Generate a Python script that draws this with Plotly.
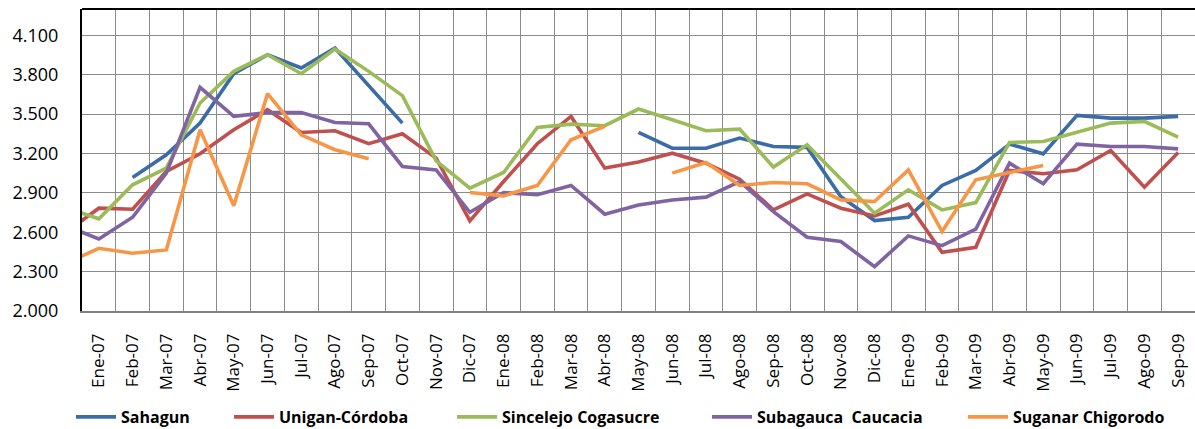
import plotly.graph_objects as go

# Categories (first one sits just outside the visible range, its line segment enters from the left edge)
months = ["Dic-06", "Ene-07", "Feb-07", "Mar-07", "Abr-07", "May-07", "Jun-07", "Jul-07", "Ago-07",
          "Sep-07", "Oct-07", "Nov-07", "Dic-07", "Ene-08", "Feb-08", "Mar-08", "Abr-08", "May-08",
          "Jun-08", "Jul-08", "Ago-08", "Sep-08", "Oct-08", "Nov-08", "Dic-08", "Ene-09", "Feb-09",
          "Mar-09", "Abr-09", "May-09", "Jun-09", "Jul-09", "Ago-09", "Sep-09"]

sahagun = [None, None, 3017, 3190, 3431, 3807, 3952, 3851, 4003, 3716, 3431, None, None, None, None,
           None, None, 3360, 3240, 3240, 3317, 3253, 3246, 2870, 2689, 2714, 2956, 3070, 3271, 3197,
           3490, 3469, 3469, 3482]
unigan = [2595, 2783, 2775, 3063, 3197, 3380, 3533, 3360, 3373, 3274, 3350, 3164, 2686, 2986, 3274,
          3482, 3088, 3134, 3202, 3126, 3004, 2770, 2892, 2783, 2724, 2813, 2447, 2485, 3070, 3045,
          3075, 3223, 2943, 3207]
sincelejo = [2788, 2702, 2961, 3088, 3584, 3825, 3952, 3807, 3995, 3825, 3640, 3144, 2935, 3055, 3398,
             3423, 3411, 3538, 3457, 3373, 3385, 3096, 3266, 3007, 2745, 2923, 2770, 2826, 3284, 3291,
             3360, 3431, 3444, 3324]
subagauca = [2651, 2549, 2714, 3050, 3703, 3482, 3512, 3512, 3436, 3426, 3101, 3075, 2752, 2902, 2885,
             2956, 2737, 2808, 2846, 2867, 2986, 2757, 2562, 2529, 2338, 2572, 2498, 2623, 3126, 2969,
             3271, 3253, 3253, 3235]
suganar = [2360, 2478, 2440, 2465, 3380, 2801, 3655, 3342, 3228, 3159, None, None, 2902, 2877, 2956,
           3304, 3406, None, 3050, 3131, 2956, 2979, 2969, 2846, 2834, 3075, 2605, 2999, 3055, 3108,
           None, None, None, None]

series_names = ["Sahagun", "Unigan-Córdoba", "Sincelejo Cogasucre", "Subagauca  Caucacia", "Suganar Chigorodo"]
series_values = [sahagun, unigan, sincelejo, subagauca, suganar]
colors = ["#3B6CA7", "#C0504D", "#9BBB59", "#8064A2", "#F79646"]

y_ticks = [2000, 2300, 2600, 2900, 3200, 3500, 3800, 4100]

W, H = 1195, 429
ML, MR, MT, MB = 82, 0, 9, 118
plot_w = W - ML - MR
plot_h = H - MT - MB

# legend entry left edges in pixels (one legend per series, placed in a row below the chart)
legend_px = [71, 229, 452, 707, 963]
legend_y_px = 417

fig = go.Figure()
legend_ids = ["legend", "legend2", "legend3", "legend4", "legend5"]
for name, vals, col, lid in zip(series_names, series_values, colors, legend_ids):
    fig.add_trace(go.Scatter(
        x=months, y=vals, mode="lines", name=name.replace("  ", "\u00a0\u00a0"),
        line=dict(color=col, width=3.6), connectgaps=False, hoverinfo="skip",
        legend=lid,
    ))

legend_style = dict(
    orientation="h", xanchor="left", yanchor="middle",
    font=dict(family="Open Sans", size=16, color="#000000", weight="bold"),
    itemwidth=40, bgcolor="rgba(0,0,0,0)",
)
legend_layout = {}
for lid, px in zip(legend_ids, legend_px):
    legend_layout[lid] = dict(legend_style, x=(px - ML) / plot_w,
                              y=-(legend_y_px - (MT + plot_h)) / plot_h)

fig.update_layout(
    width=W, height=H, autosize=False,
    margin=dict(l=ML, r=MR, t=MT, b=MB, pad=0, autoexpand=False),
    paper_bgcolor="white", plot_bgcolor="white",
    separators=",.",
    font=dict(family="Open Sans", color="#000000"),
    showlegend=True,
    shapes=[dict(type="line", xref="paper", yref="paper", x0=0, x1=1, y0=1, y1=1,
                 line=dict(color="#000000", width=2))],
    **legend_layout,
)

fig.update_xaxes(
    type="category", categoryorder="array", categoryarray=months,
    range=[0.5, len(months) - 0.5],
    tickson="boundaries", ticks="", tickangle=-90,
    tickfont=dict(family="Open Sans", size=17, color="#000000"),
    showgrid=True, gridcolor="#8c8c8c", gridwidth=1.4,
    showline=True, linecolor="#808080", linewidth=1.5,
    ticklabelstandoff=14, automargin=False,
    fixedrange=True,
)
fig.update_yaxes(
    range=[2000, 4300], tickvals=y_ticks, tickformat=",.0f",
    tickfont=dict(family="Open Sans", size=18, color="#000000"),
    showgrid=True, gridcolor="#8c8c8c", gridwidth=1.4,
    showline=True, linecolor="#000000", linewidth=2,
    ticks="", ticklabelstandoff=18, zeroline=False, automargin=False,
    fixedrange=True,
)

fig.write_html("out.html", config={"displayModeBar": False},
               post_script="document.body.style.margin='0';")
